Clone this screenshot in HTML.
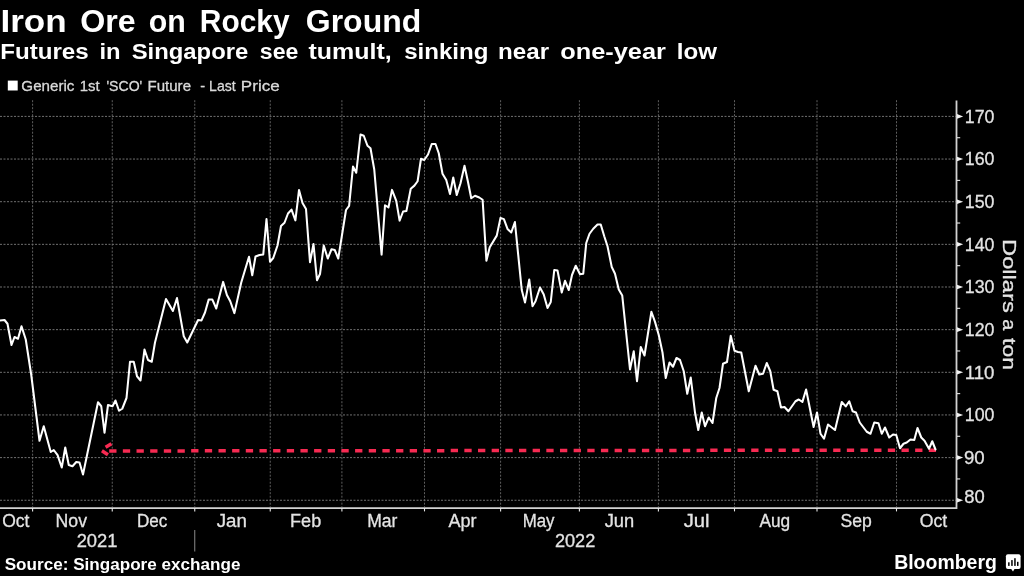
<!DOCTYPE html>
<html><head><meta charset="utf-8"><title>Iron Ore on Rocky Ground</title>
<style>
html,body{margin:0;padding:0;background:#000;}
body{width:1024px;height:576px;overflow:hidden;font-family:"Liberation Sans",sans-serif;}
svg{will-change:transform;display:block;position:absolute;left:0;top:0;}
text{font-family:"Liberation Sans",sans-serif;}
</style></head><body>
<svg width="1024" height="576" viewBox="0 0 1024 576">
<rect x="0" y="0" width="1024" height="576" fill="#000"/>

<g stroke="#858585" stroke-width="0.85" stroke-dasharray="2 1.5" fill="none">
<line x1="0" y1="116.40" x2="956" y2="116.40"/>
<line x1="0" y1="159.05" x2="956" y2="159.05"/>
<line x1="0" y1="201.70" x2="956" y2="201.70"/>
<line x1="0" y1="244.35" x2="956" y2="244.35"/>
<line x1="0" y1="287.00" x2="956" y2="287.00"/>
<line x1="0" y1="329.65" x2="956" y2="329.65"/>
<line x1="0" y1="372.30" x2="956" y2="372.30"/>
<line x1="0" y1="414.95" x2="956" y2="414.95"/>
<line x1="0" y1="457.60" x2="956" y2="457.60"/>
<line x1="0" y1="500.25" x2="956" y2="500.25"/>
</g>
<g stroke="#707070" stroke-width="0.85" stroke-dasharray="2 1.5" fill="none">
<line x1="32.60" y1="100.2" x2="32.60" y2="507"/>
<line x1="112.25" y1="100.2" x2="112.25" y2="507"/>
<line x1="194.75" y1="100.2" x2="194.75" y2="507"/>
<line x1="270.25" y1="100.2" x2="270.25" y2="507"/>
<line x1="341.90" y1="100.2" x2="341.90" y2="507"/>
<line x1="424.50" y1="100.2" x2="424.50" y2="507"/>
<line x1="500.60" y1="100.2" x2="500.60" y2="507"/>
<line x1="579.40" y1="100.2" x2="579.40" y2="507"/>
<line x1="658.40" y1="100.2" x2="658.40" y2="507"/>
<line x1="734.50" y1="100.2" x2="734.50" y2="507"/>
<line x1="817.00" y1="100.2" x2="817.00" y2="507"/>
<line x1="896.50" y1="100.2" x2="896.50" y2="507"/>
</g>
<path d="M0 508.1 H956.5 V100.5" stroke="#d2d2d2" stroke-width="1.8" fill="none"/>
<g stroke="#e8e8e8" stroke-width="1.1" fill="none">
<line x1="32.60" y1="508" x2="32.60" y2="511.4"/>
<line x1="112.25" y1="508" x2="112.25" y2="511.4"/>
<line x1="194.75" y1="508" x2="194.75" y2="511.4"/>
<line x1="270.25" y1="508" x2="270.25" y2="511.4"/>
<line x1="341.90" y1="508" x2="341.90" y2="511.4"/>
<line x1="424.50" y1="508" x2="424.50" y2="511.4"/>
<line x1="500.60" y1="508" x2="500.60" y2="511.4"/>
<line x1="579.40" y1="508" x2="579.40" y2="511.4"/>
<line x1="658.40" y1="508" x2="658.40" y2="511.4"/>
<line x1="734.50" y1="508" x2="734.50" y2="511.4"/>
<line x1="817.00" y1="508" x2="817.00" y2="511.4"/>
<line x1="896.50" y1="508" x2="896.50" y2="511.4"/>
<line x1="957" y1="137.72" x2="960.2" y2="137.72"/>
<line x1="957" y1="180.38" x2="960.2" y2="180.38"/>
<line x1="957" y1="223.02" x2="960.2" y2="223.02"/>
<line x1="957" y1="265.68" x2="960.2" y2="265.68"/>
<line x1="957" y1="308.32" x2="960.2" y2="308.32"/>
<line x1="957" y1="350.97" x2="960.2" y2="350.97"/>
<line x1="957" y1="393.62" x2="960.2" y2="393.62"/>
<line x1="957" y1="436.28" x2="960.2" y2="436.28"/>
<line x1="957" y1="478.93" x2="960.2" y2="478.93"/>
</g>
<g fill="#f0f0f0">
<path d="M957 114.10 L963.2 116.40 L957 118.70 Z"/>
<path d="M957 156.75 L963.2 159.05 L957 161.35 Z"/>
<path d="M957 199.40 L963.2 201.70 L957 204.00 Z"/>
<path d="M957 242.05 L963.2 244.35 L957 246.65 Z"/>
<path d="M957 284.70 L963.2 287.00 L957 289.30 Z"/>
<path d="M957 327.35 L963.2 329.65 L957 331.95 Z"/>
<path d="M957 370.00 L963.2 372.30 L957 374.60 Z"/>
<path d="M957 412.65 L963.2 414.95 L957 417.25 Z"/>
<path d="M957 455.30 L963.2 457.60 L957 459.90 Z"/>
<path d="M957 497.95 L963.2 500.25 L957 502.55 Z"/>
</g>
<line x1="194.75" y1="530" x2="194.75" y2="551.5" stroke="#8a8a8a" stroke-width="1"/>
<g stroke="#f72a52" stroke-width="3.5" fill="none">
<path d="M109.2 450.95 L936 450.15" stroke-dasharray="7.3 6.36"/>
<path d="M111.4 443.8 L105.6 447.3" />
<path d="M101.9 450.8 L108 454.7" />
</g>
<path d="M0.00 320.50 L4.50 320.00 L7.50 323.75 L11.50 345.00 L14.50 337.00 L18.00 338.75 L21.50 326.25 L25.75 339.50 L31.25 375.00 L39.50 440.75 L43.75 426.25 L50.75 452.00 L53.75 450.00 L57.60 455.20 L61.75 467.50 L65.25 447.50 L68.75 465.00 L72.50 466.25 L76.25 462.00 L79.50 462.50 L83.00 474.50 L98.00 402.25 L101.25 406.25 L104.50 432.75 L108.00 405.00 L112.50 406.25 L115.50 400.50 L119.00 410.75 L122.25 408.75 L126.50 398.00 L130.00 361.75 L133.75 361.75 L137.00 376.25 L140.50 380.50 L144.50 349.50 L148.00 360.00 L151.75 361.75 L155.00 342.50 L166.00 299.00 L172.90 311.00 L177.00 298.10 L183.75 336.25 L187.25 342.50 L198.10 320.00 L201.50 320.40 L205.00 312.50 L208.75 299.40 L212.25 299.40 L216.25 308.50 L223.10 281.90 L226.90 295.00 L230.25 301.25 L234.40 313.10 L241.25 282.50 L249.00 256.75 L252.25 275.25 L255.50 256.50 L259.50 255.00 L263.25 254.50 L266.50 219.00 L270.00 261.75 L273.25 258.00 L277.50 245.50 L281.00 226.00 L284.50 222.75 L288.00 213.50 L291.50 209.60 L295.40 220.40 L299.00 190.10 L302.50 203.10 L306.00 209.00 L310.00 262.25 L313.50 244.00 L317.00 280.25 L320.00 274.00 L323.75 245.50 L327.75 258.50 L331.50 249.25 L334.75 250.00 L338.25 258.50 L346.00 210.00 L349.10 205.90 L353.00 166.50 L356.25 172.75 L360.50 134.50 L363.75 135.75 L367.50 145.75 L370.50 148.25 L374.25 169.50 L381.60 254.60 L385.00 205.25 L388.50 207.40 L392.00 189.90 L396.25 200.90 L399.60 220.60 L403.10 211.50 L406.40 211.00 L410.75 188.75 L414.40 185.60 L417.60 181.25 L421.00 158.75 L424.25 160.00 L428.00 154.50 L431.75 144.00 L435.50 144.00 L438.75 153.25 L442.50 173.75 L446.25 180.00 L450.00 194.00 L453.25 177.50 L456.75 195.00 L460.50 183.25 L464.50 165.75 L468.00 182.00 L471.25 198.25 L475.00 195.75 L479.25 197.50 L482.60 199.75 L486.40 260.75 L489.75 247.25 L496.75 235.60 L500.50 217.90 L503.90 219.10 L507.50 228.90 L511.25 232.50 L514.90 222.00 L521.75 290.00 L525.00 302.50 L529.25 279.50 L532.50 306.25 L535.50 301.25 L540.00 287.50 L543.75 294.50 L547.50 308.00 L550.75 302.00 L554.25 270.00 L557.50 270.50 L561.75 292.50 L565.00 280.75 L568.75 290.00 L572.00 275.00 L575.75 265.75 L580.00 274.25 L583.25 273.75 L586.25 243.00 L589.50 233.75 L593.25 228.75 L597.50 224.50 L600.75 224.50 L604.25 236.25 L607.50 246.25 L611.75 267.00 L615.00 273.75 L618.75 289.40 L622.25 295.60 L630.00 369.50 L633.75 351.25 L637.00 381.25 L640.75 347.00 L644.50 355.50 L651.40 311.75 L655.00 321.90 L658.75 335.00 L662.50 352.50 L665.75 378.00 L669.50 362.50 L673.00 366.75 L676.50 358.00 L680.00 360.00 L683.75 371.25 L687.25 393.75 L690.75 377.50 L695.00 412.50 L698.25 430.00 L701.75 412.50 L705.00 426.25 L708.75 417.50 L712.50 423.00 L716.25 398.00 L719.50 388.00 L723.00 363.75 L727.00 362.00 L730.75 335.75 L734.50 350.75 L738.00 352.00 L741.25 352.50 L748.75 391.25 L755.50 365.75 L759.25 374.50 L763.00 373.75 L766.75 363.00 L770.25 371.25 L773.60 389.75 L777.40 391.25 L781.00 407.50 L784.50 407.00 L788.40 411.25 L795.50 401.25 L798.75 399.50 L802.40 401.90 L806.10 389.50 L813.60 427.00 L817.00 412.50 L820.50 433.75 L824.00 438.75 L828.00 424.50 L835.00 430.00 L841.75 402.00 L845.75 406.40 L849.25 401.25 L852.60 411.25 L856.00 412.50 L859.75 422.50 L866.75 431.75 L870.50 433.75 L874.25 422.50 L878.50 423.25 L881.75 433.75 L885.00 427.50 L889.25 437.50 L893.00 434.50 L896.25 435.00 L900.00 448.25 L903.50 443.75 L906.75 442.50 L910.50 439.50 L914.25 440.00 L917.50 428.00 L921.25 437.50 L924.50 440.75 L929.00 448.75 L932.25 441.25 L935.50 449.50" stroke="#fff" stroke-width="2.05" fill="none" stroke-linejoin="round" stroke-linecap="round"/>
<rect x="7.8" y="80.6" width="9.9" height="9.9" fill="#fff"/>
<text x="0.41" y="31.60" font-size="30.76" font-weight="bold" fill="#fff" textLength="66.18" lengthAdjust="spacingAndGlyphs">Iron</text>
<text x="80.19" y="31.60" font-size="30.76" font-weight="bold" fill="#fff" textLength="55.51" lengthAdjust="spacingAndGlyphs">Ore</text>
<text x="148.85" y="31.60" font-size="30.76" font-weight="bold" fill="#fff" textLength="37.01" lengthAdjust="spacingAndGlyphs">on</text>
<text x="199.83" y="31.60" font-size="30.76" font-weight="bold" fill="#fff" textLength="89.78" lengthAdjust="spacingAndGlyphs">Rocky</text>
<text x="305.80" y="31.60" font-size="30.76" font-weight="bold" fill="#fff" textLength="115.44" lengthAdjust="spacingAndGlyphs">Ground</text>
<text x="0.19" y="59.10" font-size="22.27" font-weight="bold" fill="#fff" textLength="88.49" lengthAdjust="spacingAndGlyphs">Futures</text>
<text x="99.51" y="59.10" font-size="22.27" font-weight="bold" fill="#fff" textLength="21.14" lengthAdjust="spacingAndGlyphs">in</text>
<text x="131.73" y="59.10" font-size="22.27" font-weight="bold" fill="#fff" textLength="116.57" lengthAdjust="spacingAndGlyphs">Singapore</text>
<text x="259.88" y="59.10" font-size="22.27" font-weight="bold" fill="#fff" textLength="38.50" lengthAdjust="spacingAndGlyphs">see</text>
<text x="308.50" y="59.10" font-size="22.27" font-weight="bold" fill="#fff" textLength="83.17" lengthAdjust="spacingAndGlyphs">tumult,</text>
<text x="404.15" y="59.10" font-size="22.27" font-weight="bold" fill="#fff" textLength="84.29" lengthAdjust="spacingAndGlyphs">sinking</text>
<text x="498.09" y="59.10" font-size="22.27" font-weight="bold" fill="#fff" textLength="50.95" lengthAdjust="spacingAndGlyphs">near</text>
<text x="560.21" y="59.10" font-size="22.27" font-weight="bold" fill="#fff" textLength="105.75" lengthAdjust="spacingAndGlyphs">one-year</text>
<text x="676.69" y="59.10" font-size="22.27" font-weight="bold" fill="#fff" textLength="40.23" lengthAdjust="spacingAndGlyphs">low</text>
<text x="2.18" y="526.60" font-size="18.79" font-weight="normal" fill="#e4e4e4" textLength="27.26" lengthAdjust="spacingAndGlyphs" stroke="#e4e4e4" stroke-width="0.3">Oct</text>
<text x="55.62" y="526.60" font-size="18.79" font-weight="normal" fill="#e4e4e4" textLength="31.38" lengthAdjust="spacingAndGlyphs" stroke="#e4e4e4" stroke-width="0.3">Nov</text>
<text x="136.92" y="526.60" font-size="18.79" font-weight="normal" fill="#e4e4e4" textLength="30.35" lengthAdjust="spacingAndGlyphs" stroke="#e4e4e4" stroke-width="0.3">Dec</text>
<text x="216.71" y="526.60" font-size="18.79" font-weight="normal" fill="#e4e4e4" textLength="30.09" lengthAdjust="spacingAndGlyphs" stroke="#e4e4e4" stroke-width="0.3">Jan</text>
<text x="290.09" y="526.60" font-size="18.79" font-weight="normal" fill="#e4e4e4" textLength="31.14" lengthAdjust="spacingAndGlyphs" stroke="#e4e4e4" stroke-width="0.3">Feb</text>
<text x="367.13" y="526.60" font-size="18.79" font-weight="normal" fill="#e4e4e4" textLength="30.21" lengthAdjust="spacingAndGlyphs" stroke="#e4e4e4" stroke-width="0.3">Mar</text>
<text x="448.50" y="526.60" font-size="18.79" font-weight="normal" fill="#e4e4e4" textLength="28.09" lengthAdjust="spacingAndGlyphs" stroke="#e4e4e4" stroke-width="0.3">Apr</text>
<text x="522.68" y="526.60" font-size="18.79" font-weight="normal" fill="#e4e4e4" textLength="31.82" lengthAdjust="spacingAndGlyphs" stroke="#e4e4e4" stroke-width="0.3">May</text>
<text x="604.71" y="526.60" font-size="18.79" font-weight="normal" fill="#e4e4e4" textLength="29.57" lengthAdjust="spacingAndGlyphs" stroke="#e4e4e4" stroke-width="0.3">Jun</text>
<text x="683.68" y="526.60" font-size="18.79" font-weight="normal" fill="#e4e4e4" textLength="25.90" lengthAdjust="spacingAndGlyphs" stroke="#e4e4e4" stroke-width="0.3">Jul</text>
<text x="759.50" y="526.60" font-size="18.79" font-weight="normal" fill="#e4e4e4" textLength="30.72" lengthAdjust="spacingAndGlyphs" stroke="#e4e4e4" stroke-width="0.3">Aug</text>
<text x="840.45" y="526.60" font-size="18.79" font-weight="normal" fill="#e4e4e4" textLength="31.26" lengthAdjust="spacingAndGlyphs" stroke="#e4e4e4" stroke-width="0.3">Sep</text>
<text x="919.67" y="526.60" font-size="18.79" font-weight="normal" fill="#e4e4e4" textLength="27.52" lengthAdjust="spacingAndGlyphs" stroke="#e4e4e4" stroke-width="0.3">Oct</text>
<text x="76.64" y="547.40" font-size="19.09" font-weight="normal" fill="#e4e4e4" textLength="40.86" lengthAdjust="spacingAndGlyphs" stroke="#e4e4e4" stroke-width="0.3">2021</text>
<text x="554.90" y="547.40" font-size="19.09" font-weight="normal" fill="#e4e4e4" textLength="40.33" lengthAdjust="spacingAndGlyphs" stroke="#e4e4e4" stroke-width="0.3">2022</text>
<text x="964.79" y="122.80" font-size="18.64" font-weight="normal" fill="#e4e4e4" textLength="29.65" lengthAdjust="spacingAndGlyphs" stroke="#e4e4e4" stroke-width="0.3">170</text>
<text x="964.79" y="165.45" font-size="18.64" font-weight="normal" fill="#e4e4e4" textLength="29.65" lengthAdjust="spacingAndGlyphs" stroke="#e4e4e4" stroke-width="0.3">160</text>
<text x="964.79" y="208.10" font-size="18.64" font-weight="normal" fill="#e4e4e4" textLength="29.65" lengthAdjust="spacingAndGlyphs" stroke="#e4e4e4" stroke-width="0.3">150</text>
<text x="964.79" y="250.75" font-size="18.64" font-weight="normal" fill="#e4e4e4" textLength="29.65" lengthAdjust="spacingAndGlyphs" stroke="#e4e4e4" stroke-width="0.3">140</text>
<text x="964.79" y="293.40" font-size="18.64" font-weight="normal" fill="#e4e4e4" textLength="29.65" lengthAdjust="spacingAndGlyphs" stroke="#e4e4e4" stroke-width="0.3">130</text>
<text x="964.79" y="336.05" font-size="18.64" font-weight="normal" fill="#e4e4e4" textLength="29.65" lengthAdjust="spacingAndGlyphs" stroke="#e4e4e4" stroke-width="0.3">120</text>
<text x="964.73" y="378.70" font-size="18.64" font-weight="normal" fill="#e4e4e4" textLength="29.73" lengthAdjust="spacingAndGlyphs" stroke="#e4e4e4" stroke-width="0.3">110</text>
<text x="964.79" y="421.35" font-size="18.64" font-weight="normal" fill="#e4e4e4" textLength="29.65" lengthAdjust="spacingAndGlyphs" stroke="#e4e4e4" stroke-width="0.3">100</text>
<text x="963.93" y="464.00" font-size="18.64" font-weight="normal" fill="#e4e4e4" textLength="20.74" lengthAdjust="spacingAndGlyphs" stroke="#e4e4e4" stroke-width="0.3">90</text>
<text x="964.23" y="502.65" font-size="18.64" font-weight="normal" fill="#e4e4e4" textLength="20.43" lengthAdjust="spacingAndGlyphs" stroke="#e4e4e4" stroke-width="0.3">80</text>
<text x="21.39" y="91.30" font-size="15.15" font-weight="normal" fill="#dadada" textLength="53.05" lengthAdjust="spacingAndGlyphs" stroke="#dadada" stroke-width="0.3">Generic</text>
<text x="79.77" y="91.30" font-size="15.15" font-weight="normal" fill="#dadada" textLength="19.88" lengthAdjust="spacingAndGlyphs" stroke="#dadada" stroke-width="0.3">1st</text>
<text x="106.44" y="91.30" font-size="15.15" font-weight="normal" fill="#dadada" textLength="35.87" lengthAdjust="spacingAndGlyphs" stroke="#dadada" stroke-width="0.3">'SCO'</text>
<text x="147.52" y="91.30" font-size="15.15" font-weight="normal" fill="#dadada" textLength="43.49" lengthAdjust="spacingAndGlyphs" stroke="#dadada" stroke-width="0.3">Future</text>
<text x="200.14" y="91.30" font-size="15.15" font-weight="normal" fill="#dadada" textLength="4.89" lengthAdjust="spacingAndGlyphs" stroke="#dadada" stroke-width="0.3">-</text>
<text x="209.10" y="91.30" font-size="15.15" font-weight="normal" fill="#dadada" textLength="26.55" lengthAdjust="spacingAndGlyphs" stroke="#dadada" stroke-width="0.3">Last</text>
<text x="240.87" y="91.30" font-size="15.15" font-weight="normal" fill="#dadada" textLength="38.82" lengthAdjust="spacingAndGlyphs" stroke="#dadada" stroke-width="0.3">Price</text>
<text x="4.73" y="570.40" font-size="15.61" font-weight="bold" fill="#fff" textLength="235.69" lengthAdjust="spacingAndGlyphs">Source: Singapore exchange</text>
<text x="894.18" y="569.00" font-size="20.76" font-weight="bold" fill="#fff" textLength="102.66" lengthAdjust="spacingAndGlyphs">Bloomberg</text>
<text transform="translate(1003.30 239.05) rotate(90)" font-size="19.09" font-weight="normal" fill="#e4e4e4" textLength="73.69" lengthAdjust="spacingAndGlyphs" stroke="#e4e4e4" stroke-width="0.3">Dollars</text>
<text transform="translate(1003.30 319.18) rotate(90)" font-size="19.09" font-weight="normal" fill="#e4e4e4" textLength="10.99" lengthAdjust="spacingAndGlyphs" stroke="#e4e4e4" stroke-width="0.3">a</text>
<text transform="translate(1003.30 338.00) rotate(90)" font-size="19.09" font-weight="normal" fill="#e4e4e4" textLength="32.10" lengthAdjust="spacingAndGlyphs" stroke="#e4e4e4" stroke-width="0.3">ton</text>
<g><rect x="1005.9" y="554.3" width="14.7" height="14.7" rx="2" fill="#fff"/><path d="M1010.9 568.5 L1014.8 568.5 L1013 571.5 Z" fill="#fff"/>
<rect x="1008.1" y="562.3" width="1.5" height="3.6" fill="#000"/><rect x="1011.2" y="560.1" width="1.5" height="5.8" fill="#000"/><rect x="1014.2" y="558.2" width="1.5" height="7.7" fill="#000"/><rect x="1017" y="561.8" width="1.5" height="4.1" fill="#000"/></g>
</svg></body></html>
